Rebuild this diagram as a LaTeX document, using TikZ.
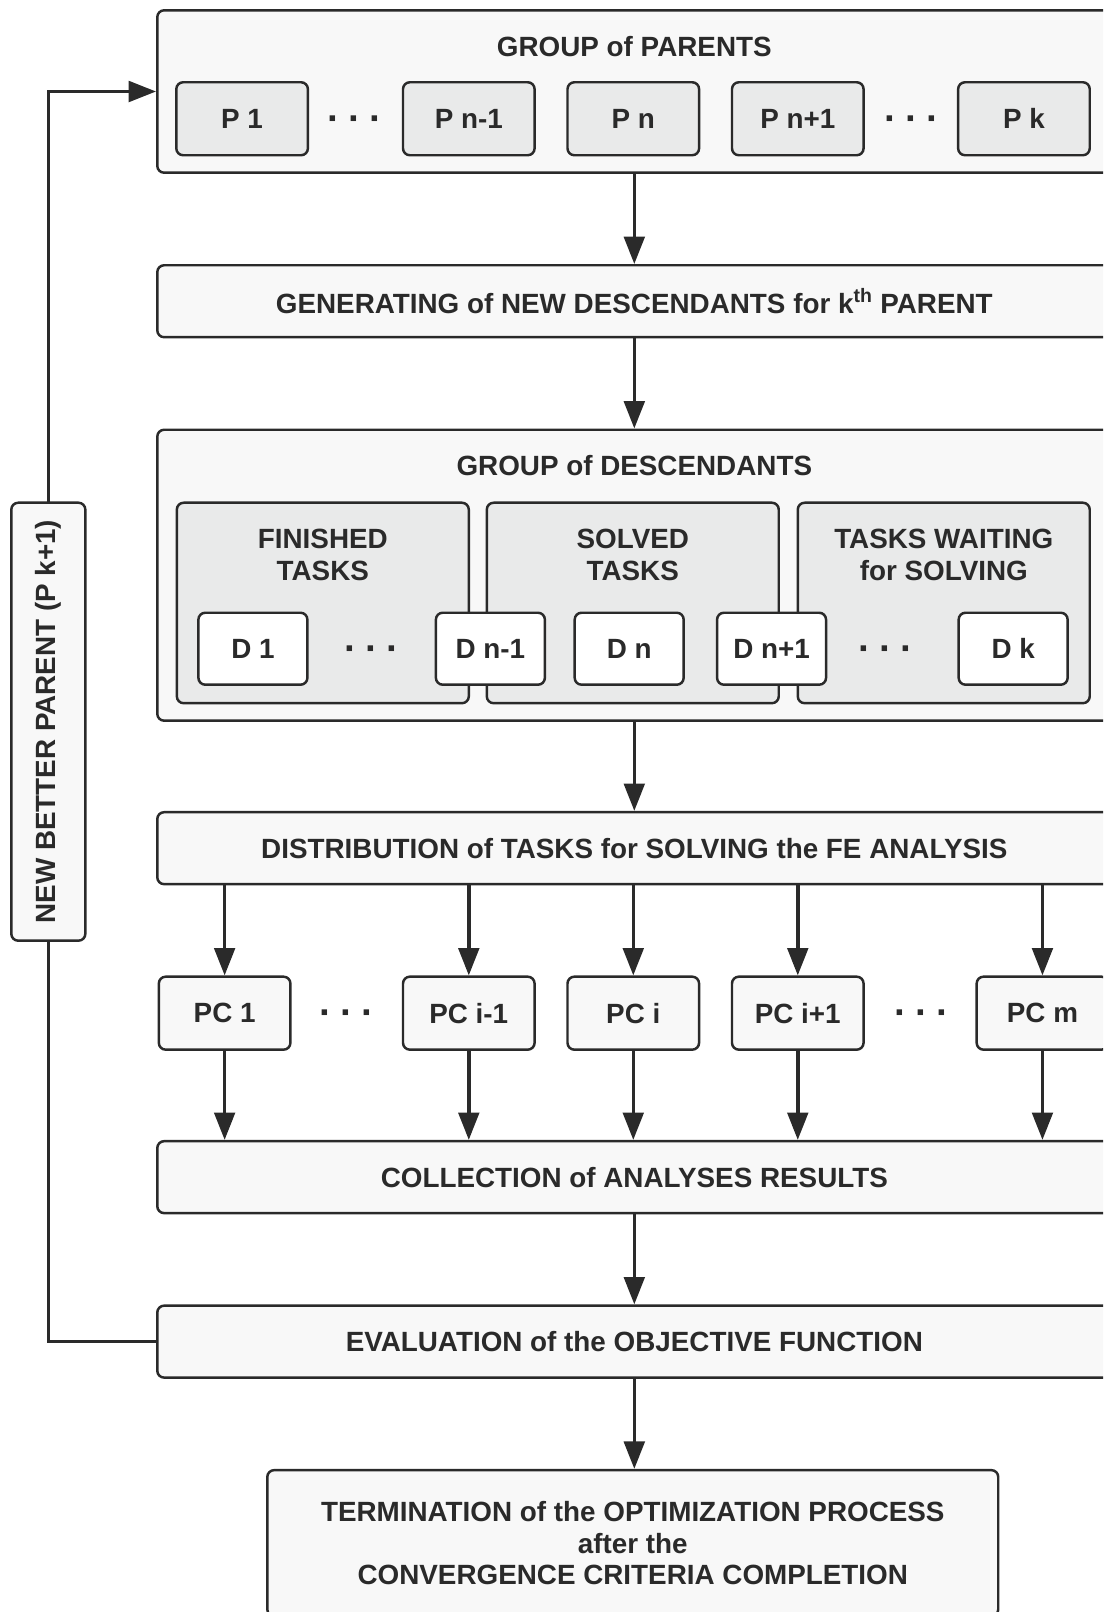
\documentclass[tikz,border=0pt]{standalone}
\usepackage{fontspec}
\setmainfont{Liberation Sans}
\usetikzlibrary{arrows.meta}
\definecolor{ink}{RGB}{42,42,42}
\definecolor{pale}{RGB}{248,248,248}
\definecolor{shade}{RGB}{233,234,234}
\newcommand{\boxfont}{\bfseries\fontsize{20.3}{23.25}\selectfont}
\newcommand{\tridots}{{\bfseries\fontsize{28}{28}\selectfont ·\hspace{6pt}·\hspace{6pt}·}}
\tikzset{
  box/.style={draw=ink, line width=1.8pt, rounded corners=5pt, fill=pale,
    text=ink, font=\boxfont, align=center, inner sep=0pt},
  widebox/.style={box, minimum width=696pt, minimum height=52.5pt},
  pbox/.style={box, fill=shade, minimum width=96pt, minimum height=53.25pt},
  colbox/.style={box, fill=shade, minimum width=213pt, minimum height=146.25pt},
  dbox/.style={box, fill=white, minimum width=79.5pt, minimum height=52.5pt},
  pcbox/.style={box, minimum width=96pt, minimum height=53.25pt},
  title/.style={text=ink, font=\boxfont, align=center, inner sep=0pt},
  gap/.style={title, yshift=-3.5pt},
  flow/.style={draw=ink, line width=2.6pt, -{Triangle[length=20pt,width=15pt]}},
  wire/.style={draw=ink, line width=2.6pt}
}
\begin{document}
\begin{tikzpicture}[x=0.75pt,y=-0.75pt]
\path[use as bounding box, clip] (0,0) rectangle (1073,1568);
% group of parents
\node[box, minimum width=696pt, minimum height=118.5pt] (parents) at (617,89) {};
\node[title] (parentsname) at (617,45) {GROUP of PARENTS};
\node[pbox] (p1) at (235.5,115.5) {P 1};
\node[gap] (pdotsa) at (345,115.5) {\tridots};
\node[pbox] (pnm) at (456,115.5) {P n-1};
\node[pbox] (pn) at (616,115.5) {P n};
\node[pbox] (pnp) at (776,115.5) {P n+1};
\node[gap] (pdotsb) at (887,115.5) {\tridots};
\node[pbox] (pk) at (996,115.5) {P k};
% generating
\node[widebox] (gen) at (617,293) {GENERATING of NEW DESCENDANTS for k\textsuperscript{th} PARENT};
% group of descendants
\node[box, minimum width=696pt, minimum height=212.25pt] (desc) at (617,559.5) {};
\node[title] (descname) at (617,453) {GROUP of DESCENDANTS};
\node[colbox] (finished) at (314,586.5) {};
\node[colbox] (solved) at (615.5,586.5) {};
\node[colbox] (waiting) at (918,586.5) {};
\node[title] (finishedname) at (314,539.5) {FINISHED\\TASKS};
\node[title] (solvedname) at (615.5,539.5) {SOLVED\\TASKS};
\node[title] (waitingname) at (918,539.5) {TASKS WAITING\\for SOLVING};
\node[dbox] (d1) at (246,631) {D 1};
\node[gap] (ddotsa) at (362,631) {\tridots};
\node[dbox] (dnm) at (477,631) {D n-1};
\node[dbox] (dn) at (612,631) {D n};
\node[dbox] (dnp) at (750.5,631) {D n+1};
\node[gap] (ddotsb) at (862,631) {\tridots};
\node[dbox] (dk) at (985.5,631) {D k};
% distribution, computers, collection
\node[widebox] (dist) at (617,825) {DISTRIBUTION of TASKS for SOLVING the FE ANALYSIS};
\node[pcbox] (pc1) at (218.5,985.5) {PC 1};
\node[gap] (pcdotsa) at (337,985.5) {\tridots};
\node[pcbox] (pcim) at (456,985.5) {PC i-1};
\node[pcbox] (pci) at (616,985.5) {PC i};
\node[pcbox] (pcip) at (776,985.5) {PC i+1};
\node[gap] (pcdotsb) at (897,985.5) {\tridots};
\node[pcbox] (pcm) at (1014,985.5) {PC m};
\node[widebox] (coll) at (617,1145) {COLLECTION of ANALYSES RESULTS};
\node[widebox] (eval) at (617,1305) {EVALUATION of the OBJECTIVE FUNCTION};
\node[box, minimum width=533.25pt, minimum height=106.5pt] (term) at (615.5,1501)
  {TERMINATION of the OPTIMIZATION PROCESS\\after the\\CONVERGENCE CRITERIA COMPLETION};
% feedback loop
\draw[wire] (eval.west) -| (47,915);
\draw[flow] (47,489) |- (parents.west);
\node[box, rotate=90, minimum width=319.5pt, minimum height=54pt] (nbp) at (47,702) {NEW BETTER PARENT (P k+1)};
% main flow
\draw[flow] (parents.south) -- (gen.north);
\draw[flow] (gen.south) -- (desc.north);
\draw[flow] (desc.south) -- (dist.north);
\foreach \pc in {pc1,pcim,pci,pcip,pcm}{
  \draw[flow] (dist.south -| \pc.north) -- (\pc.north);
  \draw[flow] (\pc.south) -- (\pc.south |- coll.north);
}
\draw[flow] (coll.south) -- (eval.north);
\draw[flow] (eval.south) -- (eval.south |- term.north);
\end{tikzpicture}
\end{document}
